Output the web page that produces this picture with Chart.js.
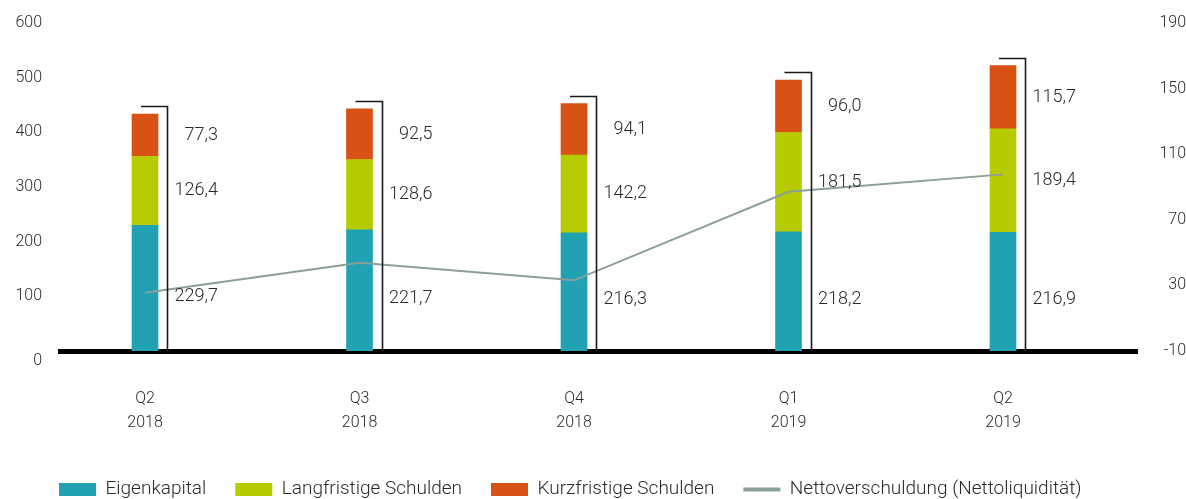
<!DOCTYPE html>
<html>
<head>
<meta charset="utf-8">
<script src="https://cdn.jsdelivr.net/npm/chart.js@4"></script>
<style>
  html, body { margin: 0; padding: 0; background: #ffffff; }
  #wrap { width: 1186px; height: 499px; position: relative; }
</style>
</head>
<body>
<div id="wrap"><canvas id="c" width="1186" height="499"></canvas></div>
<script>
// ---- data ----
const categories = [['Q2', '2018'], ['Q3', '2018'], ['Q4', '2018'], ['Q1', '2019'], ['Q2', '2019']];
const eigenkapital = [229.7, 221.7, 216.3, 218.2, 216.9];
const langfristigeSchulden = [126.4, 128.6, 142.2, 181.5, 189.4];
const kurzfristigeSchulden = [77.3, 92.5, 94.1, 96.0, 115.7];
const nettoverschuldung = [25.5, 43.8, 33.1, 87.1, 97.7];
const leftTicks = [0, 100, 200, 300, 400, 500, 600];
const rightTicks = [-10, 30, 70, 110, 150, 190];
const seriesNames = ['Eigenkapital', 'Langfristige Schulden', 'Kurzfristige Schulden', 'Nettoverschuldung (Nettoliquidität)'];

// ---- styles ----
const COLORS = { teal: '#21a2b3', green: '#b6cc00', orange: '#d85213', line: '#8a9e9a', text: '#2b2b2b' };
const FONT = 'Roboto, "DejaVu Sans", sans-serif';

const pts = arr => arr.map((v, i) => ({ x: i, y: v }));
const fmt = v => v.toFixed(1).replace('.', ',');
const noVertPad = scale => { scale.paddingTop = 0; scale.paddingBottom = 0; };

const annotPlugin = {
  id: 'annot',
  afterLayout(chart) {
    const lg = chart.legend;
    if (!lg || !lg.lineWidths) return;
    const p = lg.options.labels.padding;
    const actualStart = (lg.left + p + lg.right - lg.lineWidths[0]) / 2;
    const dx = 59 - actualStart;
    lg.left += dx; lg.right += dx;
    const dy = 10;
    lg.top += dy; lg.bottom += dy;
  },
  afterDatasetsDraw(chart) {
    const ctx = chart.ctx;
    const area = chart.chartArea;
    const barSets = [0, 1, 2];
    ctx.save();
    // value labels
    ctx.font = '300 18px ' + FONT;
    ctx.fillStyle = COLORS.text;
    ctx.textAlign = 'right';
    ctx.textBaseline = 'middle';
    barSets.forEach(di => {
      const meta = chart.getDatasetMeta(di);
      const ds = chart.data.datasets[di];
      meta.data.forEach((bar, i) => {
        const mid = (bar.y + bar.base) / 2 + (di === 0 ? 8 : 0);
        ctx.fillText(fmt(ds.data[i].y), bar.x + 73, mid);
      });
    });
    // brackets
    const topMeta = chart.getDatasetMeta(2);
    ctx.strokeStyle = '#1a1a1a';
    ctx.lineWidth = 1.6;
    topMeta.data.forEach(bar => {
      const bx = Math.round(bar.x + 22) + 0.5;
      const ty = Math.round(bar.y - 8) + 0.5;
      ctx.beginPath();
      ctx.moveTo(bar.x - 4, ty);
      ctx.lineTo(bx, ty);
      ctx.lineTo(bx, area.bottom);
      ctx.stroke();
    });
    ctx.restore();
  }
};

new Chart(document.getElementById('c'), {
  data: {
    datasets: [
      { type: 'bar', label: seriesNames[0], data: pts(eigenkapital), backgroundColor: COLORS.teal, stack: 's', yAxisID: 'y', order: 1, barThickness: 26 },
      { type: 'bar', label: seriesNames[1], data: pts(langfristigeSchulden), backgroundColor: COLORS.green, stack: 's', yAxisID: 'y', order: 1, barThickness: 26 },
      { type: 'bar', label: seriesNames[2], data: pts(kurzfristigeSchulden), backgroundColor: COLORS.orange, stack: 's', yAxisID: 'y', order: 1, barThickness: 26 },
      { type: 'line', label: seriesNames[3], data: pts(nettoverschuldung), borderColor: COLORS.line, backgroundColor: COLORS.line, borderWidth: 2, pointRadius: 0, tension: 0, yAxisID: 'y1', order: 0 }
    ]
  },
  options: {
    responsive: false,
    animation: false,
    layout: { padding: { top: 23, bottom: 0, left: 0, right: 0 } },
    plugins: {
      tooltip: { enabled: false },
      legend: {
        position: 'bottom',
        labels: {
          color: COLORS.text,
          font: { family: FONT, size: 19, weight: '300' },
          padding: 29,
          usePointStyle: true,
          pointStyleWidth: 37,
          boxHeight: 13,
          sort: (a, b) => a.datasetIndex - b.datasetIndex,
          generateLabels(chart) {
            const items = Chart.defaults.plugins.legend.labels.generateLabels(chart);
            items.forEach(it => {
              const ds = chart.data.datasets[it.datasetIndex];
              if (ds.type === 'line') {
                it.pointStyle = 'line';
                it.lineWidth = 4;
                it.strokeStyle = COLORS.line;
              } else {
                it.pointStyle = 'rect';
                it.lineWidth = 0;
                it.fillStyle = ds.backgroundColor;
              }
            });
            return items;
          }
        }
      }
    },
    scales: {
      x: {
        type: 'linear',
        offset: false,
        min: -0.3963,
        max: 4.6247,
        grid: { display: false, drawTicks: false, offset: false },
        border: { display: true, color: '#000000', width: 5 },
        afterBuildTicks(scale) { scale.ticks = categories.map((c, i) => ({ value: i })); },
        afterFit(scale) { scale.height = 90; },
        ticks: {
          padding: 36,
          color: COLORS.text,
          font: { family: FONT, size: 16, weight: '300', lineHeight: 1.5 },
          maxRotation: 0,
          autoSkip: false,
          callback: (v, i) => categories[i]
        }
      },
      y: {
        position: 'left',
        stacked: true,
        min: 0,
        max: 600,
        grid: { display: false, drawTicks: false },
        border: { display: false },
        afterBuildTicks(scale) { scale.ticks = leftTicks.map(v => ({ value: v })); },
        afterFit(scale) { scale.width = 60; noVertPad(scale); },
        ticks: {
          padding: 18, color: COLORS.text, font: { family: FONT, size: 16, weight: '300' },
          callback: v => (v === 0 ? ['', '0'] : String(v))
        }
      },
      y1: {
        position: 'right',
        min: -10,
        max: 190,
        grid: { display: false, drawTicks: false },
        border: { display: false },
        afterBuildTicks(scale) { scale.ticks = rightTicks.map(v => ({ value: v })); },
        afterFit(scale) { scale.width = 49; noVertPad(scale); },
        ticks: { padding: 15, crossAlign: 'far', color: COLORS.text, font: { family: FONT, size: 16, weight: '300' } }
      }
    }
  },
  plugins: [annotPlugin]
});
</script>
</body>
</html>
